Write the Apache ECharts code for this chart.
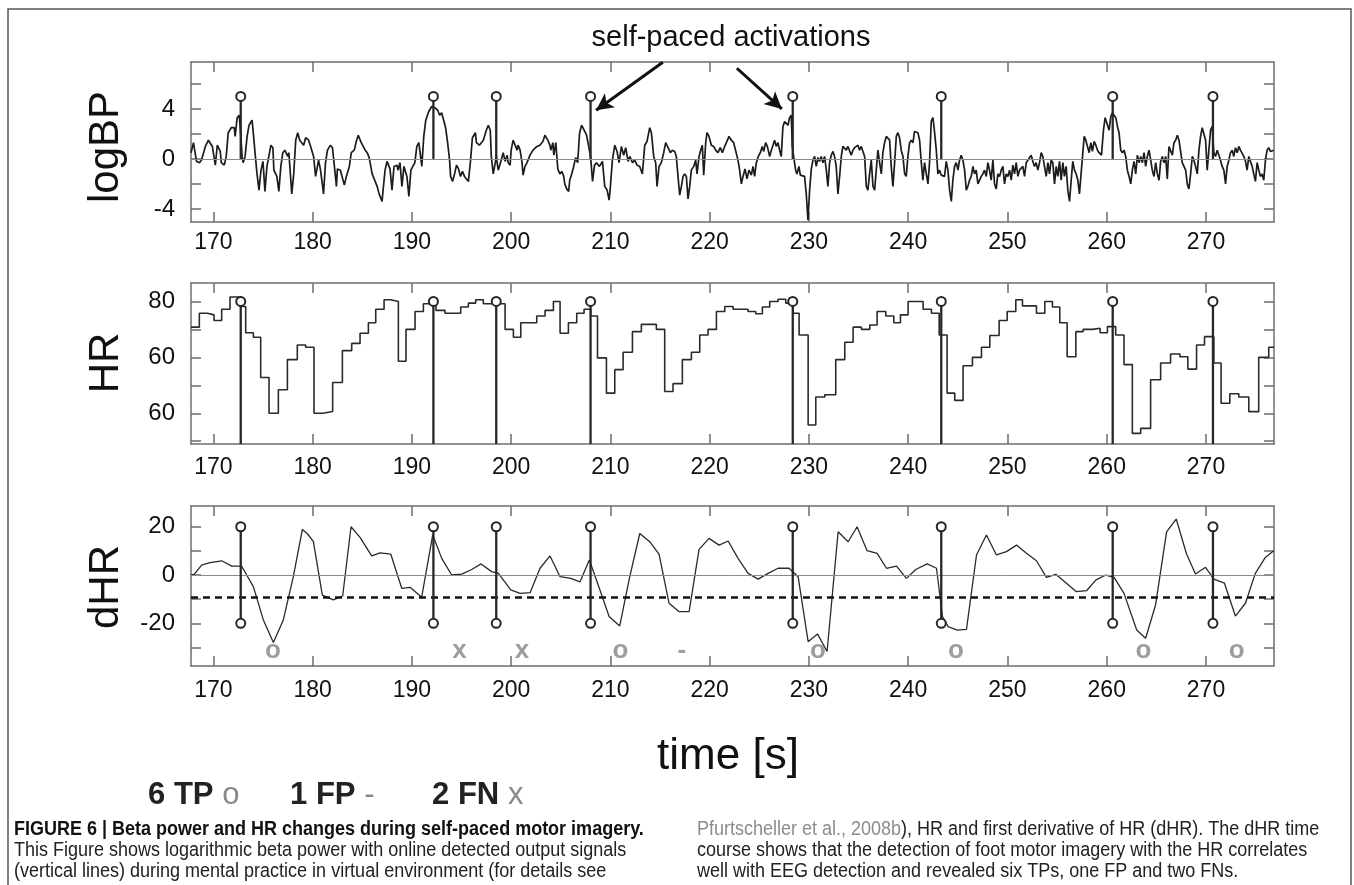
<!DOCTYPE html>
<html><head><meta charset="utf-8">
<script src="https://cdn.jsdelivr.net/npm/echarts@6/dist/echarts.min.js"></script>
<style>html,body{margin:0;padding:0;background:#fff}#c{width:1354px;height:885px}</style>
</head><body><div id="c"></div>
<script>
// ---------- DATA ----------
const xTicks = [170,180,190,200,210,220,230,240,250,260,270];
const xRange = [167.75, 276.85];

const bpRange = [-5.05, 7.76];
const bpTicks = [-4,-2,0,2,4,6];
const bpLabels = [-4,0,4];

const hrRange = [54.5, 83.3];
const hrTicks = [55,60,65,70,75,80];
const hrLabelValues = [60,70,80];
const hrLabelText = ['60','60','80'];

const dhrRange = [-37.7, 28.6];
const dhrTicks = [-30,-20,-10,0,10,20];
const dhrLabels = [-20,0,20];
const dhrThreshold = -9.2;

// detected output signals (s)
const detections = [172.76, 192.17, 198.5, 208.0, 228.37, 243.33, 260.6, 270.7];
const bpStem = [0, 5];
const hrStemTop = 80;
const dhrStem = [-20, 20];

// TP / FP / FN marks under dHR
const markTimes = [176.0, 194.8, 201.1, 211.0, 217.2, 230.9, 244.8, 263.7, 273.1];
const markKinds = ['o','x','x','o','-','o','o','o','o'];
const markLevel = -31.3;

// legend
const legendCounts = ['6 TP', '1 FP', '2 FN'];
const legendSymbols = ['o', '-', 'x'];

// annotation arrows (time, logBP)
const arrowStarts = [[215.28, 7.74], [222.74, 7.26]];
const arrowEnds = [[208.56, 3.9], [227.27, 4.0]];

// logBP [time, value]
const logBP = [
[167.75,0.5],[168.0,1.3],[168.3,-0.2],[168.6,-0.3],[168.8,-0.1],[169.2,1.0],[169.5,1.5],[169.7,1.5],[169.9,1.0],[170.2,-0.5],[170.4,1.1],[170.7,0.6],[170.8,-0.3],[171.1,-0.5],[171.3,0.2],[171.5,2.1],[171.8,2.5],[172.1,2.5],[172.2,1.8],[172.4,3.3],[172.6,3.5],[172.7,2.6],[172.9,0.2],[173.0,-0.3],[173.2,0.2],[173.4,1.8],[173.6,2.7],[173.9,3.1],[174.0,2.3],[174.2,0.5],[174.4,-1.2],[174.6,-2.5],[174.8,-0.9],[175.0,-0.2],[175.2,-2.6],[175.4,-0.6],[175.5,-0.5],[175.8,1.1],[176.0,0.9],[176.1,-0.9],[176.4,-1.4],[176.6,-2.6],[176.8,-0.6],[177.0,0.5],[177.2,0.7],[177.5,0.2],[177.6,0.5],[177.7,-0.5],[177.9,-2.8],[178.1,-1.2],[178.3,1.5],[178.5,2.1],[178.7,1.5],[178.9,1.3],[179.1,1.1],[179.3,1.7],[179.6,1.5],[179.8,1.0],[180.1,0.2],[180.3,-1.4],[180.6,-0.1],[180.8,-0.9],[181.1,-2.8],[181.3,-0.3],[181.5,0.7],[181.8,1.1],[182.0,0.9],[182.3,-1.4],[182.4,-2.2],[182.5,-0.8],[182.8,-0.9],[183.0,-0.9],[183.2,-2.1],[183.4,-1.4],[183.7,-0.6],[183.9,0.5],[184.2,0.7],[184.4,1.4],[184.6,1.9],[184.8,1.5],[184.9,1.3],[185.1,1.4],[185.3,0.7],[185.5,0.5],[185.7,0.1],[186.0,-1.2],[186.2,-1.6],[186.5,-2.2],[186.7,-2.8],[187.0,-3.4],[187.1,-2.5],[187.3,-0.9],[187.5,-0.2],[187.6,-0.3],[187.8,-0.8],[188.0,-2.5],[188.2,-0.6],[188.5,-0.5],[188.6,-0.9],[188.8,-0.3],[189.0,-2.2],[189.2,-0.6],[189.5,-1.4],[189.7,-3.0],[189.9,-0.9],[190.1,-0.6],[190.3,-0.3],[190.5,1.0],[190.7,1.3],[190.8,0.7],[191.0,-0.6],[191.2,1.8],[191.4,3.1],[191.7,3.8],[192.0,4.2],[192.3,4.1],[192.6,3.9],[192.8,3.5],[193.0,3.7],[193.2,3.1],[193.4,2.5],[193.6,1.3],[193.8,-0.1],[193.9,-1.4],[194.1,-1.8],[194.3,-1.2],[194.5,-0.5],[194.7,-0.8],[194.9,-1.4],[195.1,-1.0],[195.3,-1.4],[195.5,-1.6],[195.7,-1.8],[195.9,-0.2],[196.1,1.7],[196.4,2.1],[196.5,1.3],[196.8,1.1],[197.0,1.0],[197.2,1.5],[197.5,2.3],[197.7,2.7],[197.9,2.3],[198.0,0.2],[198.2,-1.2],[198.4,-0.3],[198.5,0.2],[198.7,-0.9],[198.9,-1.0],[199.0,-0.1],[199.2,0.5],[199.4,-0.2],[199.6,0.3],[199.7,-0.3],[199.9,-0.5],[200.0,0.7],[200.2,1.5],[200.4,1.1],[200.6,0.7],[200.7,1.1],[200.9,0.7],[201.1,-0.3],[201.2,-1.3],[201.4,-0.6],[201.6,-0.3],[201.9,0.3],[202.2,0.7],[202.6,1.0],[202.9,1.1],[203.2,1.4],[203.4,1.9],[203.7,1.5],[203.9,1.1],[204.0,0.7],[204.2,1.3],[204.3,0.3],[204.5,1.3],[204.7,-0.8],[204.9,-1.2],[205.1,-1.0],[205.3,-1.4],[205.4,-2.0],[205.6,-2.4],[205.8,-2.6],[205.9,-1.7],[206.1,-1.2],[206.3,-0.6],[206.5,0.1],[206.7,-0.3],[206.9,2.1],[207.1,2.7],[207.3,2.6],[207.6,1.9],[207.8,1.8],[208.0,0.2],[208.2,-1.8],[208.4,-0.5],[208.6,-0.3],[208.9,-0.6],
[209.20,-0.2],[209.43,-2.2],[209.67,-2.5],[209.87,-3.3],[210.00,-2.2],[210.20,-0.1],[210.44,1.1],[210.67,0.6],[210.87,-0.3],[211.11,1.0],[211.34,0.3],[211.54,0.9],[211.78,-0.2],[211.95,0.2],[212.22,-0.3],[212.45,-0.1],[212.69,-0.5],[212.95,-0.6],[213.22,-1.2],[213.46,1.1],[213.69,1.4],[213.96,2.5],[214.13,2.1],[214.36,0.2],[214.56,-0.3],[214.70,-2.2],[214.90,-0.6],[215.13,-0.3],[215.37,0.5],[215.57,1.3],[215.81,0.9],[216.04,0.5],[216.24,0.7],[216.48,0.6],[216.64,0.2],[216.81,-1.4],[216.98,-2.9],[217.15,-2.2],[217.32,-1.4],[217.48,-1.2],[217.65,-1.4],[217.82,-3.2],[217.99,-2.2],[218.15,-0.9],[218.39,-0.6],[218.59,-0.1],[218.73,-1.2],[218.93,0.2],[219.09,0.7],[219.26,1.1],[219.40,-1.3],[219.60,1.3],[219.73,2.1],[219.93,1.8],[220.17,1.1],[220.40,1.0],[220.60,0.7],[220.84,0.5],[221.07,0.9],[221.28,0.5],[221.51,1.0],[221.68,1.3],[221.95,1.8],[222.18,1.5],[222.42,1.3],[222.62,1.4],[222.85,-0.1],[223.02,-0.9],[223.19,-2.0],[223.36,-1.4],[223.56,-0.8],[223.76,-1.6],[223.96,-0.9],[224.20,-1.3],[224.36,-0.6],[224.53,-1.4],[224.70,-0.3],[224.90,0.2],[225.10,0.5],[225.30,1.0],[225.44,0.6],[225.64,1.3],[225.81,1.0],[226.04,0.2],[226.21,0.7],[226.38,1.1],[226.54,1.5],[226.71,1.0],[226.88,1.3],[227.05,0.7],[227.21,0.2],[227.38,2.6],[227.55,3.0],[227.72,3.1],[227.89,2.7],[228.05,3.3],[228.22,3.5],[228.32,1.0],[228.46,0.2],[228.66,-0.9],[228.79,-1.2],[228.99,-0.6],[229.13,-1.3],[229.33,-1.2],[229.56,-1.4],[229.73,-2.8],[229.90,-4.9],[230.07,-2.5],[230.24,-0.8],[230.40,-0.1],[230.57,0.2],[230.74,-0.6],[230.91,0.1],[231.07,-0.2],[231.24,0.2],[231.41,-0.3],[231.58,0.2],[231.75,-0.9],[231.91,-2.2],[232.08,-0.3],[232.25,0.3],[232.42,0.6],[232.58,0.2],[232.75,-0.6],[232.92,-2.8],[233.09,-1.4],[233.26,0.2],[233.42,1.0],[233.59,1.1],[233.76,0.7],[233.93,1.0],[234.10,0.9],[234.26,0.3],[234.43,0.7],[234.60,0.9],[234.77,1.0],[234.94,1.1],[235.10,0.7],[235.27,1.0],[235.44,1.1],[235.61,0.2],[235.78,-2.2],[235.94,-2.5],[236.11,-1.2],[236.28,-0.1],[236.45,-2.2],[236.62,-2.5],[236.78,-0.9],[236.95,0.7],[237.12,-0.3],[237.29,-1.2],[237.45,0.5],[237.62,1.3],[237.79,1.8],[237.96,1.9],[238.13,1.5],[238.29,-0.6],[238.46,-2.2],[238.63,-0.3],[238.80,1.8],[238.96,2.1],[239.13,1.7],[239.30,0.7],[239.47,0.2],[239.64,-1.2],[239.80,-1.4],[239.97,0.2],[240.14,1.3],[240.31,1.5],[240.48,1.3],[240.64,2.2],[240.81,2.3],[240.98,2.1],[241.15,1.5],[241.31,-0.2],[241.48,-1.7],[241.65,-0.3],[241.82,-1.2],[241.99,-2.0],[242.15,-0.3],[242.32,3.0],[242.49,3.3],[242.66,2.1],[242.83,0.7],[242.99,-1.2],[243.16,-0.9],[243.33,-1.3],[243.50,-1.2],[243.66,-1.4],[243.83,-0.2],[244.00,-0.9],[244.17,-2.5],[244.34,-3.4],[244.50,-1.7],[244.67,-0.6],[244.84,-0.3],[245.01,-0.9],[245.17,-0.1],[245.34,0.3],[245.51,-0.1],[245.68,-0.9],[245.85,-2.5],[246.01,-2.2],[246.18,-1.7],[246.35,-1.4],[246.52,-0.6],[246.68,-1.2],[246.85,-0.9],[247.02,-2.0],[247.19,-1.7],[247.36,-1.4],[247.52,-1.2],[247.69,-0.9],[247.86,-1.4],[248.03,-0.3],[248.19,-0.9],[248.36,-1.7],[248.53,-0.1],[248.70,-2.0],[248.87,-2.4],[249.03,-1.2],[249.20,-1.4],[249.37,-0.9],[249.54,-0.6],[249.70,-2.0],[249.87,-1.2],[250.04,-1.4],[250.21,-0.9],[250.38,-1.7],[250.54,-0.5],[250.71,-1.2],[250.88,-0.3],[251.05,-1.4],[251.21,-0.9],[251.38,-0.9],[251.55,-0.6],[251.72,-1.4],[251.89,-0.3],[252.05,-0.1],[252.22,-0.1],[252.39,0.3],[252.56,-0.2],[252.72,-0.6],[252.89,-0.3],[253.06,-0.9],[253.23,-0.3],[253.40,0.5],[253.56,0.2],[253.73,-0.6],[253.90,-1.4],[254.07,-0.3],[254.23,-1.2],[254.40,-0.1],[254.57,-0.3],[254.74,-2.0],[254.91,-0.6],[255.07,-1.4],[255.24,-0.2],[255.41,-1.7],[255.58,-0.3],[255.74,-1.4],[255.91,-0.6],[256.08,-2.5],[256.25,-3.4],[256.42,-1.7],[256.58,-0.2],[256.75,-0.9],[256.92,-1.2],[257.09,-1.7],[257.25,-2.8],
[257.56,0.2],[257.73,1.8],[257.89,1.5],[258.06,1.0],[258.23,0.5],[258.40,1.3],[258.56,0.6],[258.73,1.4],[258.90,1.1],[259.07,0.7],[259.23,0.5],[259.47,0.3],[259.67,2.3],[259.84,3.3],[260.00,2.9],[260.24,2.3],[260.41,3.4],[260.57,3.7],[260.74,3.5],[260.91,3.3],[261.08,2.6],[261.24,2.1],[261.41,0.7],[261.58,0.5],[261.75,0.7],[261.91,0.2],[262.08,-0.9],[262.25,-1.4],[262.42,-2.0],[262.58,-0.9],[262.75,-0.2],[262.92,-1.2],[263.09,0.3],[263.25,-0.3],[263.42,0.2],[263.59,-0.3],[263.76,0.5],[263.92,-0.6],[264.09,0.2],[264.26,0.7],[264.43,-0.1],[264.59,-0.9],[264.76,-1.4],[264.93,-0.3],[265.10,-1.2],[265.27,-1.7],[265.43,-0.2],[265.60,0.2],[265.77,-0.3],[265.94,0.2],[266.10,-1.6],[266.27,1.0],[266.44,1.1],[266.61,0.3],[266.77,1.3],[266.94,1.5],[267.11,1.9],[267.28,1.5],[267.44,0.6],[267.61,-0.3],[267.78,-0.2],[267.95,-0.9],[268.11,-2.0],[268.28,-2.4],[268.45,-1.2],[268.62,0.2],[268.78,-0.1],[268.95,-0.6],[269.12,-1.2],[269.29,0.7],[269.45,1.8],[269.62,2.5],[269.79,2.6],[269.96,1.5],[270.12,-0.9],[270.29,0.7],[270.46,2.3],[270.63,2.6],[270.79,0.5],[270.96,0.2],[271.13,0.7],[271.30,0.3],[271.46,-0.1],[271.63,-0.6],[271.80,-0.9],[271.97,-2.0],[272.13,-0.6],[272.30,-0.1],[272.47,0.5],[272.64,0.7],[272.80,0.2],[272.97,0.9],[273.14,0.5],[273.31,1.0],[273.47,0.7],[273.64,0.7],[273.81,0.2],[273.98,-0.2],[274.14,-0.9],[274.31,0.2],[274.48,-0.2],[274.65,-0.6],[274.81,-1.2],[274.98,-1.8],[275.15,-0.3],[275.32,-0.9],[275.48,-1.4],[275.65,-1.2],[275.82,-1.7],[275.99,-0.1],[276.15,0.7],[276.32,0.9],[276.49,0.6],[276.66,0.5],[276.82,0.7]
];

// HR (beat-to-beat, step) [time, bpm]
const HR = [
[167.75,75.4],[168.59,77.9],[169.40,77.6],[170.07,76.6],[170.84,78.6],[171.68,80.8],[172.85,79.1],[173.26,74.4],[174.03,73.6],[174.77,66.4],[175.61,60.0],[176.55,64.2],[177.46,69.6],[178.46,72.2],[179.30,71.8],[180.14,60.0],[181.02,60.3],[182.02,65.5],[183.00,71.2],[183.94,72.5],[184.78,74.3],[185.62,76.2],[186.36,78.6],[187.20,80.3],[187.87,80.0],[188.64,69.3],[189.41,75.0],[190.32,78.2],[191.16,79.6],[192.43,78.4],[193.34,77.9],[194.92,79.0],[195.69,79.7],[196.43,80.3],[197.20,79.6],[199.39,75.0],[200.23,73.6],[200.97,76.2],[202.58,77.4],[203.42,78.4],[204.26,80.0],[204.93,74.3],[205.77,76.2],[206.61,77.9],[207.35,78.6],[208.02,77.4],[208.70,69.9],[209.60,63.6],[210.44,67.8],[211.28,70.9],[212.22,74.6],[213.12,75.9],[214.63,75.0],[215.47,63.9],[216.31,65.3],[217.25,69.6],[218.16,70.9],[219.00,74.0],[219.84,75.0],[220.68,78.2],[221.52,79.1],[222.36,78.6],[223.87,78.2],[224.64,77.8],[225.31,79.0],[226.05,80.0],[226.89,80.4],[227.67,79.7],[228.40,77.9],[229.01,74.0],[229.92,57.9],[230.69,62.9],[231.60,63.3],[232.70,69.6],[233.61,72.7],[234.45,75.4],[235.29,75.0],[236.13,75.8],[236.87,78.2],[237.74,77.4],[238.55,76.2],[239.22,77.6],[239.99,80.0],[241.50,78.6],[242.34,77.9],[243.12,74.0],[243.92,63.6],[244.69,62.3],[245.53,68.5],[246.47,70.0],[247.38,71.8],[248.22,73.9],[249.16,76.6],[249.97,78.2],[250.84,80.3],[251.51,79.2],[252.92,77.9],[253.76,80.0],[254.53,79.0],[255.27,76.2],[256.01,70.1],[256.89,74.6],[257.62,75.0],[258.56,75.2],[259.33,74.4],[260.07,75.5],[260.90,74.0],[261.74,68.7],[262.58,56.4],[263.42,57.3],[264.42,66.0],[265.43,69.0],[266.43,70.6],[267.37,70.1],[268.17,67.9],[269.05,72.2],[269.85,73.7],[270.79,69.0],[271.52,61.8],[272.40,63.5],[273.30,62.9],[274.31,60.3],[275.31,70.0],[276.32,71.8],[276.85,71.8]
];

// dHR [time, value]
const dHR = [
[167.75,0],[168.09,0.4],[168.82,4.1],[169.66,5.1],[170.84,5.9],[171.85,3.7],[172.85,3.7],[173.36,0],[174.03,-4.8],[175.04,-18.6],[176.05,-28.0],[177.05,-18.6],[178.06,-0.7],[178.97,18.9],[179.50,17.0],[180.08,13.8],[180.98,-8.3],[182.09,-10.3],[183.03,-8.7],[183.87,20.0],[184.78,15.6],[185.95,7.9],[186.79,9.2],[187.87,8.7],[188.98,-5.5],[189.82,-5.1],[190.99,-9.2],[192.10,16.6],[193.01,6.9],[194.01,0],[195.02,0.4],[196.03,2.3],[196.97,4.6],[198.04,1.4],[198.72,0.7],[199.96,-6.2],[200.90,-7.6],[201.91,-7.3],[202.91,2.8],[203.92,7.9],[204.93,-0.7],[206.00,-1.4],[206.94,-2.8],[207.88,6.2],[208.93,-6.0],[209.87,-17.2],[210.94,-21.1],[211.95,-0.7],[212.96,17.2],[213.96,13.8],[214.90,8.7],[215.91,-11.7],[216.92,-15.2],[217.93,-15.2],[218.93,10.6],[219.94,15.2],[220.95,12.4],[221.86,14.1],[222.86,6.9],[223.87,0.7],[224.88,-1.7],[225.89,0.7],[226.89,2.8],[228.00,2.8],[228.91,-0.7],[229.92,-27.6],[230.86,-24.4],[231.83,-31.7],[232.94,17.9],[233.95,13.8],[234.85,20.0],[235.86,10.1],[236.87,9.0],[237.81,2.8],[238.82,3.7],[239.82,-1.4],[240.76,2.3],[241.91,4.6],[242.85,2.8],[243.45,-17.2],[244.02,-21.4],[244.93,-22.8],[245.87,-22.5],[246.88,8.3],[247.88,16.6],[248.89,8.3],[249.90,9.7],[250.91,12.4],[251.91,9.0],[252.92,5.9],[253.93,-1.0],[254.87,0.3],[255.94,-3.4],[256.95,-6.9],[257.97,-6.5],[258.89,-2.1],[259.90,0],[260.74,-1.0],[261.74,-7.6],[263.02,-22.8],[263.92,-26.2],[264.92,-12.4],[266.03,17.9],[267.00,23.2],[268.04,8.7],[268.94,0.4],[269.95,3.2],[270.79,-1.7],[271.86,-3.4],[272.96,-17.0],[273.97,-11.7],[274.97,0.7],[275.98,7.3],[276.82,10.1]
];

// ---------- CHART ----------
const SANS = "'Liberation Sans',Arial,Helvetica,sans-serif";
const AX = '#6e6e6e';
const INK = '#1c1c1c';

const grids = [
  {left:191, right:80, top:62, height:160},
  {left:191, right:80, top:283, height:161},
  {left:191, right:80, top:506, height:160}
];
const xMargins = [9, 12, 13];

function xAxisPair(i) {
  const base = {
    type:'value', gridIndex:i, min:xRange[0], max:xRange[1],
    axisLine:{show:true, onZero:false, lineStyle:{color:AX, width:1.5}},
    splitLine:{show:false},
    axisTick:{show:true, inside:true, length:10, customValues:xTicks, lineStyle:{color:AX, width:1.5}}
  };
  return [
    Object.assign({}, base, {position:'bottom',
      axisLabel:{show:true, customValues:xTicks, margin:xMargins[i], color:'#111', fontSize:23, fontFamily:SANS}}),
    Object.assign({}, base, {position:'top', axisLabel:{show:false}})
  ];
}
function yAxisPair(i, range, ticks, labels, fmt) {
  const base = {
    type:'value', gridIndex:i, min:range[0], max:range[1],
    axisLine:{show:true, onZero:false, lineStyle:{color:AX, width:1.5}},
    splitLine:{show:false},
    axisTick:{show:true, inside:true, length:10, customValues:ticks, lineStyle:{color:AX, width:1.5}}
  };
  return [
    Object.assign({}, base, {position:'left',
      axisLabel:{show:true, customValues:labels, margin:16, color:'#111', fontSize:24, fontFamily:SANS, formatter:fmt}}),
    Object.assign({}, base, {position:'right', axisLabel:{show:false}})
  ];
}

const xs = [0,1,2].map(xAxisPair);
const xAxis = [xs[0][0], xs[1][0], xs[2][0], xs[0][1], xs[1][1], xs[2][1]];
const y0 = yAxisPair(0, bpRange, bpTicks, bpLabels, v => String(v));
const y1 = yAxisPair(1, hrRange, hrTicks, hrLabelValues, v => hrLabelText[hrLabelValues.indexOf(v)] || '');
const y2 = yAxisPair(2, dhrRange, dhrTicks, dhrLabels, v => String(v));
const yAxis = [y0[0], y1[0], y2[0], y0[1], y1[1], y2[1]];

function stemSeries(idx, top, base, bottomCircle) {
  return {
    type:'custom', xAxisIndex:idx, yAxisIndex:idx, z:6, clip:false,
    encode:{x:0, y:1},
    data: detections.map(t => [t, top, base]),
    renderItem: function (params, api) {
      const t = api.value(0);
      const pTop = api.coord([t, api.value(1)]);
      const pBase = api.coord([t, api.value(2)]);
      const r = 4.5;
      const children = [
        {type:'line', shape:{x1:pBase[0], y1: bottomCircle ? pBase[1]-r : pBase[1], x2:pTop[0], y2:pTop[1]+r},
          style:{stroke:'#262626', lineWidth:2.3}},
        {type:'circle', shape:{cx:pTop[0], cy:pTop[1], r:r}, style:{fill:'#fff', stroke:'#262626', lineWidth:2}}
      ];
      if (bottomCircle) children.push({type:'circle', shape:{cx:pBase[0], cy:pBase[1], r:r}, style:{fill:'#fff', stroke:'#262626', lineWidth:2}});
      return {type:'group', children:children};
    }
  };
}

const zeroLine = {yAxis:0, lineStyle:{color:'#8a8a8a', width:1, type:'solid'}};
const arrowItems = arrowStarts.map((s, k) => [
  {coord:s, symbol:'none', lineStyle:{color:'#111', width:3, type:'solid'}},
  {coord:arrowEnds[k], symbol:'arrow', symbolSize:[13,17], lineStyle:{color:'#111', width:3, type:'solid'}}
]);

function txt(x, y, text, extra, elExtra) {
  return Object.assign({type:'text', x:x, y:y,
    style:Object.assign({text:text, fill:'#222', fontSize:20, fontFamily:SANS,
      verticalAlign:'middle', textVerticalAlign:'middle'}, extra || {})}, elExtra || {});
}

const legendX = [148, 290, 432];
const legendEls = legendCounts.map((c, k) => txt(legendX[k], 795, '{b|' + c + '} {g|' + legendSymbols[k] + '}', {
  fontSize:32, rich:{b:{fontSize:32, fontWeight:'bold', fontFamily:SANS, fill:'#222'},
                     g:{fontSize:32, fontWeight:'normal', fontFamily:SANS, fill:'#8a8a8a'}}}, {scaleX:0.97}));

const capScale = {scaleX:0.9};
const option = {
  animation:false,
  backgroundColor:'#fff',
  grid: grids.map(g => Object.assign({outerBoundsMode:'none', containLabel:false}, g)),
  xAxis: xAxis,
  yAxis: yAxis,
  series: [
    {type:'line', xAxisIndex:0, yAxisIndex:0, data:logBP, showSymbol:false, symbol:'none',
      lineStyle:{color:INK, width:1.7}, z:3,
      markLine:{silent:true, symbol:['none','none'], label:{show:false}, data:[zeroLine].concat(arrowItems)}},
    stemSeries(0, bpStem[1], bpStem[0], false),
    {type:'line', xAxisIndex:1, yAxisIndex:1, data:HR, step:'end', showSymbol:false, symbol:'none',
      lineStyle:{color:'#2a2a2a', width:1.6}, z:3},
    stemSeries(1, hrStemTop, hrRange[0], false),
    {type:'line', xAxisIndex:2, yAxisIndex:2, data:dHR, showSymbol:false, symbol:'none',
      lineStyle:{color:'#2a2a2a', width:1.3}, z:3,
      markLine:{silent:true, symbol:['none','none'], label:{show:false},
        data:[zeroLine, {yAxis:dhrThreshold, lineStyle:{color:'#111', width:2.6, type:[7,5]}}]}},
    stemSeries(2, dhrStem[1], dhrStem[0], true),
    {type:'scatter', xAxisIndex:2, yAxisIndex:2, symbolSize:1, itemStyle:{color:'rgba(0,0,0,0)'},
      data: markTimes.map((t, k) => [t, markLevel, markKinds[k]]),
      label:{show:true, position:'inside', formatter: p => p.value[2], color:'#858585',
        fontSize:26, fontWeight:'bold', fontFamily:SANS}, z:7}
  ],
  graphic:{elements:[
    {type:'polyline', shape:{points:[[8,885],[8,9],[1351,9],[1351,885]]}, style:{stroke:'#555', lineWidth:1.5, fill:null}},
    txt(731, 38, 'self-paced activations', {fill:'#111', fontSize:29, align:'center', textAlign:'center'}),
    txt(106, 147, 'logBP', {fill:'#111', fontSize:42, align:'center', textAlign:'center'}, {rotation:Math.PI/2}),
    txt(106, 363, 'HR', {fill:'#111', fontSize:42, align:'center', textAlign:'center'}, {rotation:Math.PI/2}),
    txt(106, 587, 'dHR', {fill:'#111', fontSize:42, align:'center', textAlign:'center'}, {rotation:Math.PI/2}),
    txt(728, 757, 'time [s]', {fill:'#111', fontSize:44, align:'center', textAlign:'center'}),
  ].concat(legendEls, [
    txt(14, 829, 'FIGURE 6 | Beta power and HR changes during self-paced motor imagery.', {fill:'#111', fontWeight:'bold'}, capScale),
    txt(14, 850, 'This Figure shows logarithmic beta power with online detected output signals', {}, capScale),
    txt(14, 871, '(vertical lines) during mental practice in virtual environment (for details see', {}, capScale),
    txt(697, 829, '{g|Pfurtscheller et al., 2008b}), HR and first derivative of HR (dHR). The dHR time',
      {rich:{g:{fill:'#8c8c8c', fontSize:20, fontFamily:SANS}}}, capScale),
    txt(697, 850, 'course shows that the detection of foot motor imagery with the HR correlates', {}, capScale),
    txt(697, 871, 'well with EEG detection and revealed six TPs, one FP and two FNs.', {}, capScale)
  ])}
};

const chart = echarts.init(document.getElementById('c'), null, {renderer:'canvas', width:1354, height:885});
chart.setOption(option);
</script></body></html>
